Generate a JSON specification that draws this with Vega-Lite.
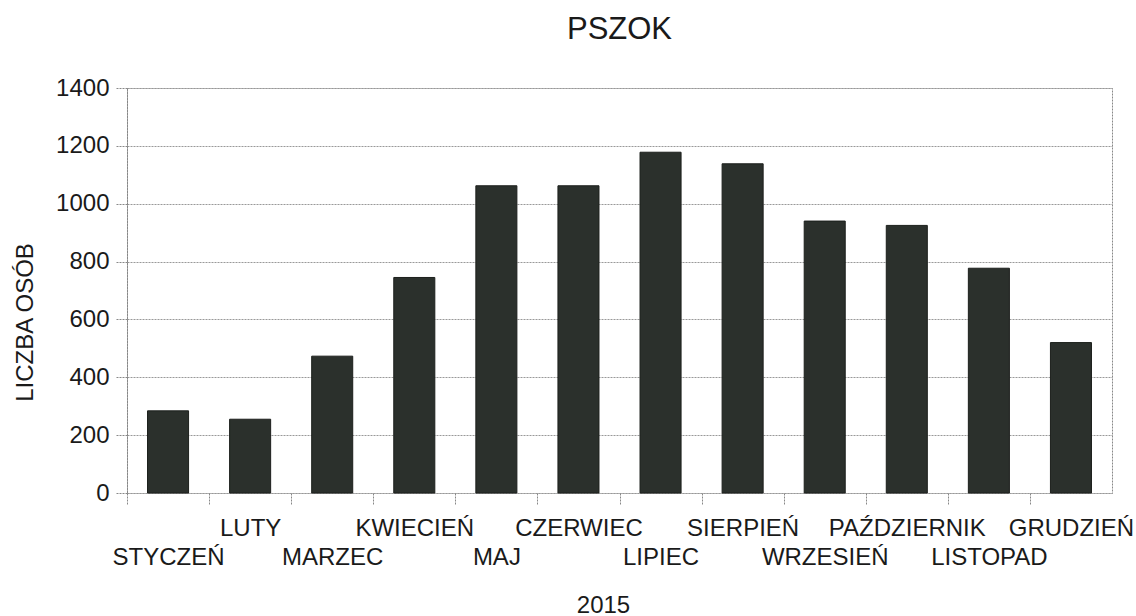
{
  "$schema": "https://vega.github.io/schema/vega-lite/v6.json",
  "width": 985,
  "height": 405,
  "autosize": {"type": "none"},
  "padding": {"left": 127, "top": 88, "right": 24, "bottom": 123},
  "background": "white",
  "title": {
    "text": "PSZOK",
    "font": "Liberation Sans",
    "fontSize": 31,
    "fontWeight": "normal",
    "color": "#1a1a1a",
    "anchor": "middle",
    "baseline": "alphabetic",
    "offset": 6
  },
  "data": {
    "values": [
      {"miesiac": "STYCZEŃ", "liczba": 284},
      {"miesiac": "LUTY", "liczba": 255},
      {"miesiac": "MARZEC", "liczba": 473},
      {"miesiac": "KWIECIEŃ", "liczba": 745},
      {"miesiac": "MAJ", "liczba": 1062},
      {"miesiac": "CZERWIEC", "liczba": 1062},
      {"miesiac": "LIPIEC", "liczba": 1178},
      {"miesiac": "SIERPIEŃ", "liczba": 1138},
      {"miesiac": "WRZESIEŃ", "liczba": 940},
      {"miesiac": "PAŹDZIERNIK", "liczba": 925},
      {"miesiac": "LISTOPAD", "liczba": 777},
      {"miesiac": "GRUDZIEŃ", "liczba": 520}
    ]
  },
  "mark": {"type": "bar", "color": "#2b302c", "stroke": "#1c1f1c", "strokeWidth": 1},
  "encoding": {
    "x": {
      "field": "miesiac",
      "type": "nominal",
      "sort": null,
      "scale": {"paddingInner": 0.5, "paddingOuter": 0.25},
      "axis": {
        "title": "2015",
        "titleX": 476,
        "titleY": 119,
        "titleBaseline": "alphabetic",
        "titleAlign": "center",
        "labelAngle": 0,
        "labelOverlap": false,
        "labelLimit": 400,
        "labelBaseline": "top",
        "labelLineHeight": 29,
        "labelPadding": 12,
        "labelOffset": 20.52,
        "labelExpr": "indexof(['STYCZEŃ','MARZEC','MAJ','LIPIEC','WRZESIEŃ','LISTOPAD'], datum.value) >= 0 ? [' ', datum.label] : datum.label",
        "bandPosition": 0,
        "tickExtra": false,
        "tickOffset": -20.52,
        "tickSize": 11,
        "tickColor": "#888888",
        "tickDash": [2, 1],
        "domain": false,
        "grid": false
      }
    },
    "y": {
      "field": "liczba",
      "type": "quantitative",
      "scale": {"domain": [0, 1400], "nice": false},
      "axis": {
        "title": "LICZBA OSÓB",
        "titleX": -95,
        "titleY": 234,
        "titleAngle": 270,
        "titleBaseline": "alphabetic",
        "titleAlign": "center",
        "values": [0, 200, 400, 600, 800, 1000, 1200, 1400],
        "format": "d",
        "tickSize": 11,
        "tickColor": "#888888",
        "tickDash": [2, 1],
        "labelPadding": 7,
        "domainColor": "#888888",
        "domainDash": [2, 1],
        "grid": true,
        "gridColor": "#999999",
        "gridDash": [2, 1]
      }
    }
  },
  "config": {
    "font": "Liberation Sans",
    "view": {"stroke": "#888888", "strokeDash": [2, 1], "strokeWidth": 1},
    "axis": {
      "labelFont": "Liberation Sans",
      "labelFontSize": 24,
      "labelColor": "#1a1a1a",
      "titleFont": "Liberation Sans",
      "titleFontSize": 24,
      "titleFontWeight": "normal",
      "titleColor": "#1a1a1a"
    }
  }
}
